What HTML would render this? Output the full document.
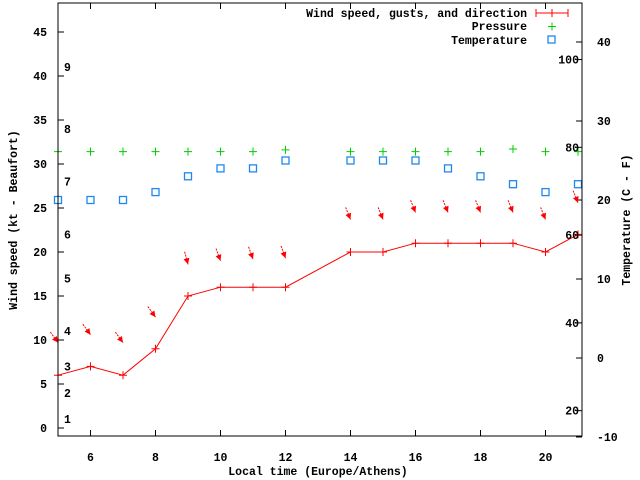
<!DOCTYPE html>
<html><head><meta charset="utf-8"><style>
html,body{margin:0;padding:0;background:#fff;}
svg{display:block;font-family:"Liberation Mono",monospace;font-weight:bold;font-size:11.5px;}
</style></head><body>
<svg id="c" width="640" height="480" xmlns="http://www.w3.org/2000/svg">
<rect x="0" y="0" width="640" height="480" fill="#fff"/>
<g id="plot"></g>
<rect x="58" y="3" width="524" height="433" fill="none" stroke="#000" stroke-width="1"/>
<text x="318" y="475" text-anchor="middle">Local time (Europe/Athens)</text>
<text transform="translate(17,220) rotate(-90)" text-anchor="middle">Wind speed (kt - Beaufort)</text>
<text transform="translate(630,220) rotate(-90)" text-anchor="middle">Temperature (C - F)</text>
<g>
<text x="527" y="17" text-anchor="end">Wind speed, gusts, and direction</text>
<line x1="536" y1="13" x2="568" y2="13" stroke="#f00"/>
<line x1="536" y1="9" x2="536" y2="17" stroke="#f00"/>
<line x1="568" y1="9" x2="568" y2="17" stroke="#f00"/>
<line x1="552" y1="9" x2="552" y2="17" stroke="#f00"/>
<text x="527" y="30" text-anchor="end">Pressure</text>
<path d="M548 26.5h8M552 22.5v8" stroke="#0c0"/>
<text x="527" y="44" text-anchor="end">Temperature</text>
<rect x="548" y="36" width="7" height="7" fill="none" stroke="#1e88ee" stroke-width="1.3"/>
</g>
</svg>
<script>
const hours=[5,6,7,8,9,10,11,12,14,15,16,17,18,19,20,21];
const wind=[6,7,6,9,15,16,16,16,20,20,21,21,21,21,20,22];
const gust=[9.7,10.6,9.7,12.6,18.6,19,19.2,19.3,23.7,23.7,24.5,24.5,24.5,24.5,23.7,25.6];
const dirDeg=[324,324,324,324,345,340,340,340,338,338,338,338,338,338,338,338];
const pressure=[31.4,31.4,31.4,31.4,31.4,31.4,31.4,31.6,31.4,31.4,31.4,31.4,31.4,31.7,31.4,31.4];
const tempC=[20,20,20,21,23,24,24,25,25,25,25,24,23,22,21,22];
const xTicks=[6,8,10,12,14,16,18,20];
const yTicks=[0,5,10,15,20,25,30,35,40,45];
const y2Ticks=[-10,0,10,20,30,40];
const fTicks=[20,40,60,80,100];
const bftLabels=[1,2,3,4,5,6,7,8,9];
const bftKt=[1,4,7,11,17,22,28,34,41];

const NS='http://www.w3.org/2000/svg';
const svg=document.getElementById('c');
const g=document.getElementById('plot');
const X=h=>58+(h-5)*32.5;
const Y=k=>428-k*8.8;
const Y2=c=>358-c*7.9;
function mk(tag,attrs,parent){const e=document.createElementNS(NS,tag);for(const k in attrs)e.setAttribute(k,attrs[k]);(parent||g).appendChild(e);return e;}

xTicks.forEach(t=>{
  const a=mk('path',{d:`M${X(t)} 436v-6M${X(t)} 3v6`,stroke:'#000'});
  
  
  const l=mk('text',{x:X(t),y:461,'text-anchor':'middle'},svg);
  l.textContent=t;
  
  
});
yTicks.forEach(t=>{
  const a=mk('path',{d:`M58 ${Y(t)}h6`,stroke:'#000'});
  
  
  const l=mk('text',{x:47,y:Y(t)+4,'text-anchor':'end'},svg);
  l.textContent=t;
  
  
});
y2Ticks.forEach(t=>{
  const a=mk('path',{d:`M582 ${Y2(t)}h-6`,stroke:'#000'});
  
  
  const l=mk('text',{x:597,y:Y2(t)+4},svg);
  l.textContent=t;
  
  
});
fTicks.forEach(f=>{
  const c=(f-32)*5/9;
  const a=mk('path',{d:`M582 ${Y2(c)}h-6`,stroke:'#000'});
  
  
  const l=mk('text',{x:579,y:Y2(c)+4,'text-anchor':'end'},svg);
  l.textContent=f;
  
  
});
bftLabels.forEach((b,i)=>{
  const l=mk('text',{x:64,y:Y(bftKt[i])+4},svg);
  l.textContent=b;
  
  
});
// wind line
const ln=mk('polyline',{points:hours.map((h,i)=>X(h)+','+Y(wind[i])).join(' '),fill:'none',stroke:'#f00'});


hours.forEach((h,i)=>{
  const p=mk('path',{d:`M${X(h)-4} ${Y(wind[i])}h8M${X(h)} ${Y(wind[i])-4}v8`,stroke:'#f00'});
  
  
  // gust arrow
  const a=(dirDeg[i]+180)*Math.PI/180;
  const ux=Math.sin(a),uy=-Math.cos(a);
  const hx=X(h),hy=Y(gust[i]);
  const tx=hx-ux*13,ty=hy-uy*13;
  const ar=mk('line',{x1:tx,y1:ty,x2:hx,y2:hy,stroke:'#f00','stroke-dasharray':'2,1'});
  
  
  const px=-uy,py=ux;
  const hd=mk('polygon',{points:`${hx},${hy} ${hx-ux*6+px*3},${hy-uy*6+py*3} ${hx-ux*6-px*3},${hy-uy*6-py*3}`,fill:'#f00'});
  
  
  const pr=mk('path',{d:`M${X(h)-4} ${Y(pressure[i])}h8M${X(h)} ${Y(pressure[i])-4}v8`,stroke:'#0c0'});
  
  
  const tp=mk('rect',{x:X(h)-3.5,y:Y2(tempC[i])-3.5,width:7,height:7,fill:'none',stroke:'#1e88ee','stroke-width':1.3});
  
  
});
</script>
</body></html>
